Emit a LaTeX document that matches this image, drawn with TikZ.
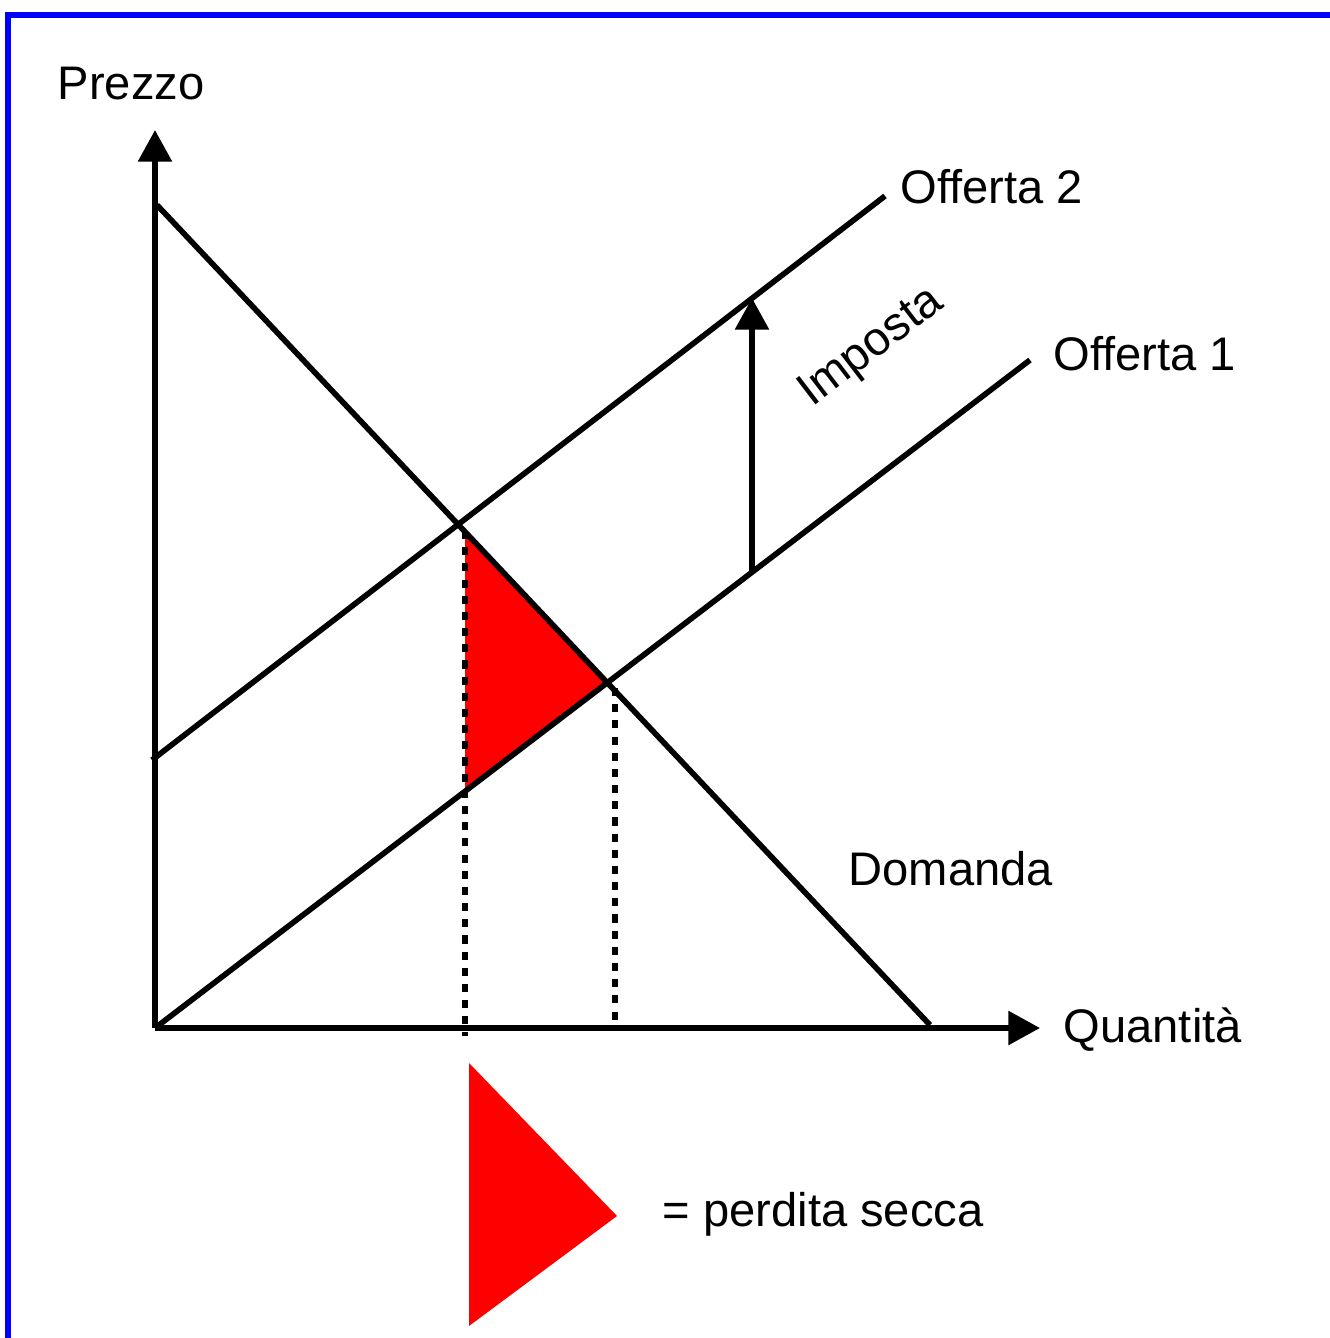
\documentclass[tikz,border=0pt]{standalone}
\usepackage{fontspec}
\setmainfont{Liberation Sans}
\usepackage{tikz}
\usetikzlibrary{arrows.meta,positioning,calc}
\usepackage{xcolor}

\begin{document}
\begin{tikzpicture}[
    x=0.01cm, y=-0.01cm,
    curve/.style={line width=1.6pt},
    axis/.style={line width=1.6pt, -{Triangle[length=9pt,width=9.4pt]}},
    guide/.style={line width=1.7pt, dash pattern=on 2.3pt off 2.3pt},
    lbl/.style={inner sep=0pt, anchor=base west, font=\fontsize{13.4pt}{16pt}\selectfont},
]
    \useasboundingbox (0,0) rectangle (1330,1338);
    \draw[blue, line width=1.7pt] (8,15) rectangle (1400,1400);

    % points of the graph
    \coordinate (o) at (155,1028);
    \coordinate (ytop) at (155,130);
    \coordinate (xend) at (1040,1028);
    \coordinate (dem1) at (157,205);
    \coordinate (dem2) at (930,1025);
    \coordinate (off1a) at (155,1028);
    \coordinate (off1b) at (1030,360);
    \coordinate (off2a) at (152,760);
    \coordinate (off2b) at (885,196);
    \coordinate (eq1) at (608,683);
    \coordinate (top) at (465,531);
    \coordinate (bot) at (465,791);
    \coordinate (base1) at (465,1036);
    \coordinate (base2) at (615,1027);
    \coordinate (qeq) at (615,688);
    \coordinate (tax1) at (752,572);
    \coordinate (tax2) at (752,298);

    \fill[red] (top) -- (eq1) -- (bot) -- cycle;

    \draw[guide] (top) -- (base1);
    \draw[guide] (qeq) -- (base2);

    \draw[axis] (o) -- (ytop);
    \draw[axis] (o) -- (xend);
    \draw[curve] (dem1) -- (dem2);
    \draw[curve] (off1a) -- (off1b);
    \draw[curve] (off2a) -- (off2b);
    \draw[axis] (tax1) -- (tax2);

    \node[lbl] (prezzo) at (57,99) {Prezzo};
    \node[lbl] (quant) at (1063,1042) {Quantità};
    \node[lbl] (of2) at (900,203) {Offerta 2};
    \node[lbl] (of1) at (1053,370) {Offerta 1};
    \node[lbl] (dom) at (848,885) {Domanda};
    \node[lbl, anchor=center, rotate=37.4] (imp) at (872,348) {Imposta};

    % legend
    \fill[red] (469,1063) -- (617,1216) -- (469,1326) -- cycle;
    \node[lbl] (leg) at (662,1226) {= perdita secca};
\end{tikzpicture}
\end{document}
